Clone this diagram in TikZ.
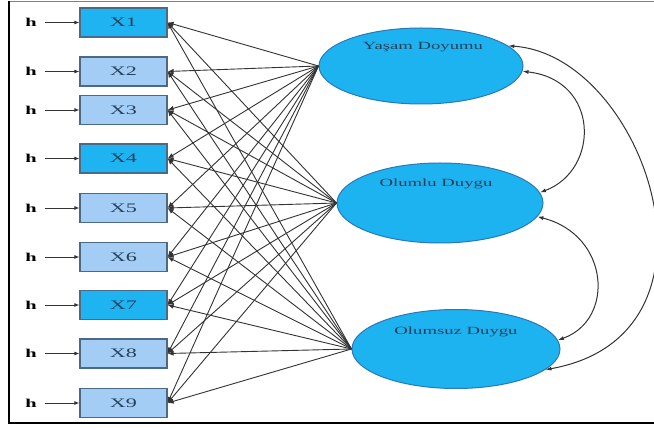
\documentclass[tikz,border=0pt]{standalone}
\usepackage{fontspec}
\setmainfont{Liberation Serif}
\newfontfamily\widefont[FakeStretch=1.7]{Liberation Serif}
\usetikzlibrary{arrows.meta,shapes.geometric}

\definecolor{brightbox}{HTML}{1EB4F2}
\definecolor{palebox}{HTML}{A3CDF4}
\definecolor{boxline}{HTML}{4C6A86}
\definecolor{latentfill}{HTML}{1DB3F0}
\definecolor{latentline}{HTML}{2A78B8}
\definecolor{labeltext}{HTML}{24405C}
\definecolor{wire}{HTML}{333333}

\tikzset{
  obs/.style={draw=boxline, line width=1.2pt, minimum width=87pt, minimum height=29pt,
    inner sep=0pt, font=\widefont\fontsize{13}{13}\selectfont, text=labeltext},
  errlab/.style={inner xsep=8pt, inner ysep=2pt, font=\widefont\bfseries\fontsize{12}{12}\selectfont},
  latent/.style={ellipse, draw=latentline, fill=latentfill, line width=1pt, inner sep=0pt},
  latlab/.style={inner sep=1pt, font=\widefont\fontsize{11}{11}\selectfont, text=labeltext},
  harrow/.style={draw=wire, line width=0.9pt, -{Latex[length=5pt,width=4pt]}},
  load/.style={draw=wire, line width=0.9pt, -{Latex[length=6pt,width=5pt]}},
  cov/.style={draw=wire, line width=1pt, {Latex[length=6pt,width=4pt]}-{Latex[length=6pt,width=4pt]}},
}

\begin{document}
\begin{tikzpicture}[x=1pt,y=-1pt]
\useasboundingbox (0,0) rectangle (654,430);
\fill[white] (0,0) rectangle (654,430);

% frame
\draw[line width=1.2pt, gray] (9,1.5) -- (656,1.5);
\draw[line width=2pt, black] (9,1.5) -- (9,423) -- (656,423);

% latent factors
\node[latent, minimum width=204pt, minimum height=76pt] (Y) at (421,66) {};
\node[latent, minimum width=206pt, minimum height=80pt] (O) at (440,203) {};
\node[latent, minimum width=208pt, minimum height=79pt] (N) at (456,349) {};
\node[latlab] (Ylab) at (423,47) {Yaşam Doyumu};
\node[latlab] (Olab) at (436,184) {Olumlu Duygu};
\node[latlab] (Nlab) at (456,332) {Olumsuz Duygu};

% observed indicators with their error terms
\foreach \i/\y/\c in {1/22.5/brightbox, 2/71.5/palebox, 3/110/palebox,
                      4/158.5/brightbox, 5/208/palebox, 6/257/palebox,
                      7/305/brightbox, 8/353.5/palebox, 9/403/palebox} {
  \node[obs, fill=\c] (X\i) at (123.5,\y) {X\i};
  \node[errlab] (h\i) at (31,\y) {h};
  \draw[harrow] (h\i) -- (X\i);
}

% factor loadings
\foreach \f in {Y,O,N} {
  \foreach \i in {1,...,9} {
    \draw[load] (\f.west) -- (X\i.east);
  }
}

% covariances between the factors
\draw[cov] (Y.13) .. controls (645,55) and (740,335) .. (N.-13);
\draw[cov] (Y.-3) .. controls (600,80) and (600,170) .. (O.6);
\draw[cov] (O.-8) .. controls (610,235) and (615,320) .. (N.5);
\end{tikzpicture}
\end{document}
